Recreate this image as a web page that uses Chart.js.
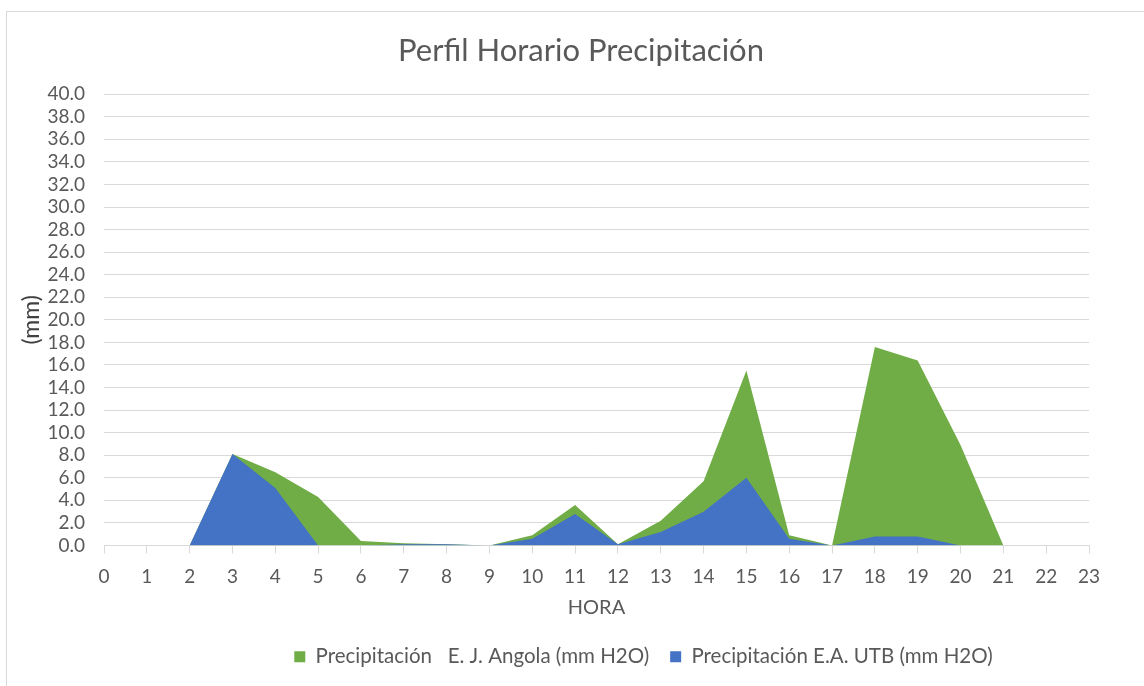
<!DOCTYPE html>
<html lang="es">
<head>
    <meta charset="UTF-8">
    <title>Perfil Horario Precipitación</title>
    <script src="https://cdn.jsdelivr.net/npm/chart.js"></script>
    <style>
        html, body { margin: 0; padding: 0; background: #fff; }
        .frame {
            position: absolute; left: 6px; top: 11px;
            width: 1160px; height: 700px;
            border: 1px solid #d9d9d9; box-sizing: border-box;
        }
        .chart-container { position: absolute; left: 0; top: 0; width: 1144px; height: 686px; }
    </style>
</head>
<body>
    <div class="frame"></div>
    <div class="chart-container">
        <canvas id="chart"></canvas>
    </div>

    <script>
        const hours = ['0','1','2','3','4','5','6','7','8','9','10','11','12','13','14','15','16','17','18','19','20','21','22','23'];
        const angola = [0, 0, 0, 8.1, 6.5, 4.3, 0.4, 0.2, 0.1, 0, 0.9, 3.6, 0.1, 2.2, 5.7, 15.5, 0.9, 0, 17.6, 16.4, 8.9, 0, 0, 0];
        const utb    = [0, 0, 0, 8.1, 5.1, 0, 0, 0.1, 0.1, 0, 0.6, 2.8, 0.1, 1.2, 3.0, 6.0, 0.6, 0, 0.8, 0.8, 0, 0, 0, 0];

        const txt = '#595959';
        const fam = 'Lato, "Open Sans", sans-serif';

        // Excel puts the legend a bit right of centre
        const legendShift = {
            id: 'legendShift',
            afterUpdate(chart) {
                chart.legend.left += 47;
                chart.legend.right += 47;
            }
        };

        const ctx = document.getElementById('chart').getContext('2d');

        const chart = new Chart(ctx, {
            type: 'line',
            data: {
                labels: hours,
                datasets: [{
                    // blue first so it is drawn on top of the green area
                    label: 'Precipitación E.A. UTB (mm H2O)',
                    data: utb,
                    backgroundColor: '#4472C4',
                    borderColor: '#4472C4',
                    borderWidth: 0,
                    pointRadius: 0,
                    fill: 'origin',
                    tension: 0,
                }, {
                    label: 'Precipitación   E. J. Angola (mm H2O)',
                    data: angola,
                    backgroundColor: '#70AD47',
                    borderColor: '#70AD47',
                    borderWidth: 0,
                    pointRadius: 0,
                    fill: 'origin',
                    tension: 0,
                }]
            },
            plugins: [legendShift],
            options: {
                responsive: true,
                maintainAspectRatio: false,
                animation: false,
                layout: { padding: { top: 20, right: 0, bottom: 9, left: 18 } },
                scales: {
                    x: {
                        offset: false,
                        afterFit: (s) => { s.height = 80; },
                        grid: {
                            drawOnChartArea: false,
                            drawTicks: true,
                            tickLength: 8,
                            color: '#d9d9d9'
                        },
                        border: { color: '#d9d9d9' },
                        ticks: { color: txt, font: { family: fam, size: 19 }, padding: 12, maxRotation: 0 },
                        title: {
                            display: true,
                            text: 'HORA',
                            color: txt,
                            font: { family: fam, size: 20 },
                            padding: { top: 0, bottom: 6 }
                        }
                    },
                    y: {
                        min: 0,
                        max: 40,
                        afterFit: (s) => { s.width = 86; },
                        grid: { color: '#d9d9d9', drawTicks: false },
                        border: { display: false },
                        ticks: {
                            stepSize: 2,
                            autoSkip: false,
                            color: txt,
                            padding: 19,
                            font: { family: fam, size: 19 },
                            callback: (v) => Number(v).toFixed(1)
                        },
                        title: {
                            display: true,
                            text: '(mm)',
                            color: '#404040',
                            font: { family: fam, size: 23 },
                            padding: { top: 0, bottom: 0 }
                        }
                    },
                    // empty axis that keeps the right margin
                    side: {
                        position: 'right',
                        afterFit: (s) => { s.width = 55; },
                        grid: { display: false },
                        border: { display: false },
                        ticks: { display: false }
                    }
                },
                plugins: {
                    title: {
                        display: true,
                        text: 'Perfil Horario Precipitación',
                        color: txt,
                        font: { family: fam, size: 31, weight: 'normal' },
                        padding: { top: 12, bottom: 25 }
                    },
                    legend: {
                        position: 'bottom',
                        fullSize: false,
                        reverse: true,
                        labels: {
                            color: txt,
                            boxWidth: 11,
                            boxHeight: 11,
                            padding: 21,
                            font: { family: fam, size: 20.5 }
                        }
                    },
                    tooltip: { enabled: false }
                }
            }
        });
    </script>
</body>
</html>
